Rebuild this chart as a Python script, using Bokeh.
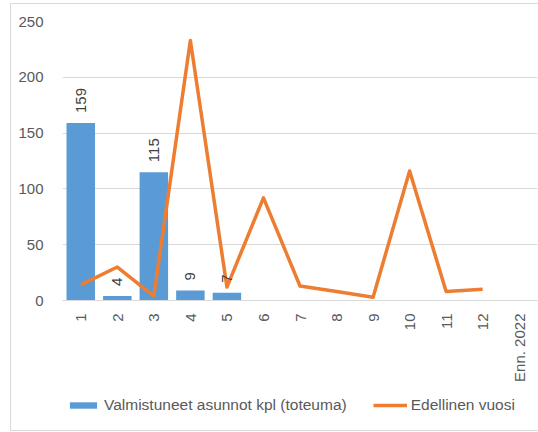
from bokeh.plotting import figure
from bokeh.models import Range1d, FixedTicker, Legend, LegendItem, ColumnDataSource
from bokeh.core.properties import value
from bokeh.embed import file_html
from bokeh.resources import INLINE
import math

# ---- data ----
tick_labels = ["1", "2", "3", "4", "5", "6", "7", "8", "9", "10", "11", "12", "Enn. 2022"]
bar_months = [1, 2, 3, 4, 5]
bar_values = [159, 4, 115, 9, 7]
line_months = [1, 2, 3, 4, 5, 6, 7, 8, 9, 10, 11, 12]
line_values = [14, 30, 4, 233, 12, 92, 13, 8, 3, 116, 8, 10]
y_ticks = [0, 50, 100, 150, 200, 250]

FONT = "Liberation Sans"
GRAY = "#595959"
BORDER = "#D9D9D9"

# layout (pixels)
W, H = 538, 432
TOP, LEFT = 21, 62          # frame top / left
PLOT_H = 279                # pixel height of 0..250
YMAX = 250
frame_h = H - TOP
ymin = -(frame_h - PLOT_H) * YMAX / PLOT_H

bg = ("linear-gradient({c},{c}) 10px 3px / 1px 427px no-repeat, "
      "linear-gradient({c},{c}) 10px 3px / 528px 1px no-repeat, "
      "linear-gradient({c},{c}) 10px 430px / 528px 1px no-repeat, white").format(c=BORDER)

p = figure(width=W, height=H, output_backend="svg", toolbar_location=None,
           x_range=Range1d(0.5, len(tick_labels) + 0.5), y_range=Range1d(ymin, YMAX),
           min_border_left=LEFT, min_border_right=1, min_border_top=TOP, min_border_bottom=0,
           styles={"background": bg})
p.outline_line_color = None
p.background_fill_alpha = 0
p.border_fill_alpha = 0

# grid
p.xgrid.grid_line_color = None
p.ygrid.grid_line_color = BORDER
p.ygrid.grid_line_width = 1
p.ygrid.ticker = FixedTicker(ticks=y_ticks)

# y axis
p.yaxis.ticker = FixedTicker(ticks=y_ticks)
p.yaxis.axis_line_color = None
p.yaxis.major_tick_line_color = None
p.yaxis.minor_tick_line_color = None
p.yaxis.major_label_text_font = FONT
p.yaxis.major_label_text_font_size = "15px"
p.yaxis.major_label_text_color = GRAY
p.yaxis.major_label_standoff = 13

# x axis (drawn at y = 0 inside the frame)
xt = list(range(1, len(tick_labels) + 1))
p.xaxis.fixed_location = 0
p.xaxis.ticker = FixedTicker(ticks=xt)
p.xaxis.major_label_overrides = {i: lab for i, lab in zip(xt, tick_labels)}
p.xaxis.major_label_orientation = math.pi / 2
p.xaxis.axis_line_color = BORDER
p.xaxis.major_tick_line_color = None
p.xaxis.minor_tick_line_color = None
p.xaxis.major_label_text_font = FONT
p.xaxis.major_label_text_font_size = "15px"
p.xaxis.major_label_text_color = GRAY
p.xaxis.major_label_standoff = 7

# bars
bsrc = ColumnDataSource(dict(x=bar_months, top=bar_values, lab=[str(v) for v in bar_values]))
bars = p.vbar(x="x", top="top", width=0.78, source=bsrc, fill_color="#5B9BD5", line_color=None)

# line
lsrc = ColumnDataSource(dict(x=line_months, y=line_values))
ln = p.line(x="x", y="y", source=lsrc, line_color="#ED7D31", line_width=3.5, line_join="round")

# data labels
p.text(x="x", y="top", text="lab", source=bsrc, angle=math.pi / 2,
       text_align="left", text_baseline="middle", y_offset=-10,
       text_font=value(FONT), text_font_size="15px", text_color="#404040")

legend = Legend(items=[LegendItem(label="Valmistuneet asunnot kpl (toteuma)", renderers=[bars]),
                       LegendItem(label="Edellinen vuosi", renderers=[ln])],
                orientation="horizontal", location=(4, 18),
                glyph_width=34, glyph_height=8, label_height=17, label_standoff=4, spacing=26,
                padding=0, margin=0, border_line_color=None, background_fill_alpha=0,
                label_text_font=FONT, label_text_font_size="15.5px", label_text_color=GRAY)
p.add_layout(legend, "center")

open("out.html", "w").write(file_html(p, INLINE))
